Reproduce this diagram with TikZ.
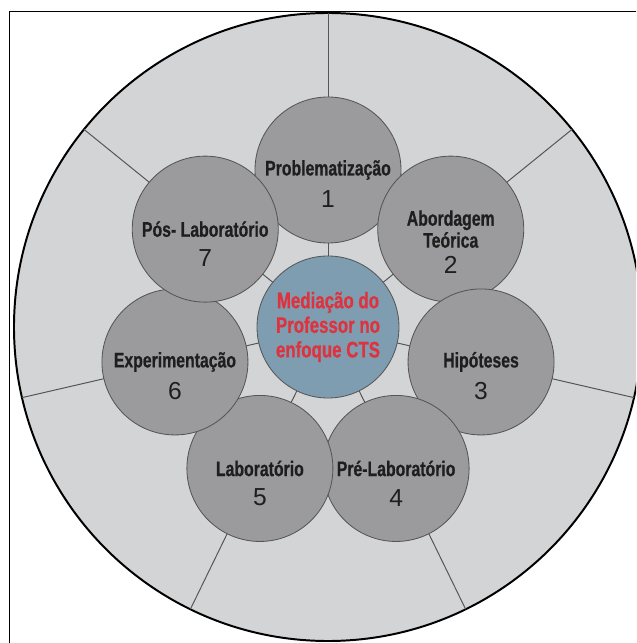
\documentclass[tikz,border=0pt]{standalone}
\usepackage{fontspec}
\setmainfont{Liberation Sans}
\newfontfamily\narrowfont[FakeStretch=0.75,FakeBold=0.6]{Liberation Sans}
\usetikzlibrary{positioning}
\usepackage{xcolor}
\definecolor{ringgray}{RGB}{211,212,214}
\definecolor{stagegray}{RGB}{155,155,157}
\definecolor{hubblue}{RGB}{127,157,176}
\definecolor{mediared}{RGB}{222,50,62}
\definecolor{linegray}{RGB}{85,85,85}
\definecolor{textdark}{RGB}{30,30,30}

\begin{document}
\begin{tikzpicture}[
    x=0.25mm, y=0.25mm,
    ring/.style={circle, draw=black, fill=ringgray, line width=1.4pt,
                 minimum size=157mm, inner sep=0pt, outer sep=0pt},
    spoke/.style={draw=linegray, line width=0.7pt},
    stage/.style={circle, draw=linegray, fill=stagegray, line width=0.6pt,
                  minimum size=36.5mm, inner sep=0pt, outer sep=0pt},
    hub/.style={circle, draw=linegray, fill=hubblue, line width=0.6pt,
                minimum size=35.5mm, inner sep=0pt, outer sep=0pt,
                text=mediared, align=center,
                font=\narrowfont\bfseries\fontsize{16}{17.5}\selectfont},
    title/.style={text=textdark, align=center, inner sep=0pt,
                  font=\narrowfont\bfseries\fontsize{15}{15.6}\selectfont},
    num/.style={text=textdark, inner sep=0pt, font=\fontsize{17.5}{20}\selectfont},
    frame/.style={draw=black, line width=0.6pt}
]
\useasboundingbox (-328,-316) rectangle (308,327);
\clip (-328,-316) rectangle (308,327);

\draw[frame] (-319,-340) -- (-319,315.5) -- (340,315.5);

\coordinate (o) at (0,0);
\node[ring] (ring) at (o) {};

% spokes behind the stages
\draw[spoke] (o) -- (ring.90);
\draw[spoke] (o) -- (ring.39);
\draw[spoke] (o) -- (ring.-13);
\draw[spoke] (o) -- (ring.-64);
\draw[spoke] (o) -- (ring.-116);
\draw[spoke] (o) -- (ring.-167);
\draw[spoke] (o) -- (ring.141);

\node[hub] (hub) at (o) {Mediação do\\Professor no\\enfoque CTS};

\node[stage] (s1) at (90:157) {};
\node[title] (t1) at (s1) {Problematização};
\node[num] (n1) at ([yshift=-7.3mm]s1.center) {1};

\node[stage] (s2) at (38.57:157) {};
\node[title] (t2) at (s2) {Abordagem\\Teórica};
\node[num] (n2) at ([yshift=-9mm]s2.center) {2};

\node[stage] (s3) at (-12.86:157) {};
\node[title] (t3) at (s3) {Hipóteses};
\node[num] (n3) at ([yshift=-7.3mm]s3.center) {3};

\node[stage] (s4) at (-64.29:157) {};
\node[title] (t4) at (s4) {Pré-Laboratório};
\node[num] (n4) at ([yshift=-7.3mm]s4.center) {4};

\node[stage] (s5) at (-115.71:157) {};
\node[title] (t5) at (s5) {Laboratório};
\node[num] (n5) at ([yshift=-7.3mm]s5.center) {5};

\node[stage] (s6) at (-167.14:157) {};
\node[title] (t6) at (s6) {Experimentação};
\node[num] (n6) at ([yshift=-7.3mm]s6.center) {6};

\node[stage] (s7) at (141.43:157) {};
\node[title] (t7) at (s7) {Pós- Laboratório};
\node[num] (n7) at ([yshift=-7.3mm]s7.center) {7};

\end{tikzpicture}
\end{document}
